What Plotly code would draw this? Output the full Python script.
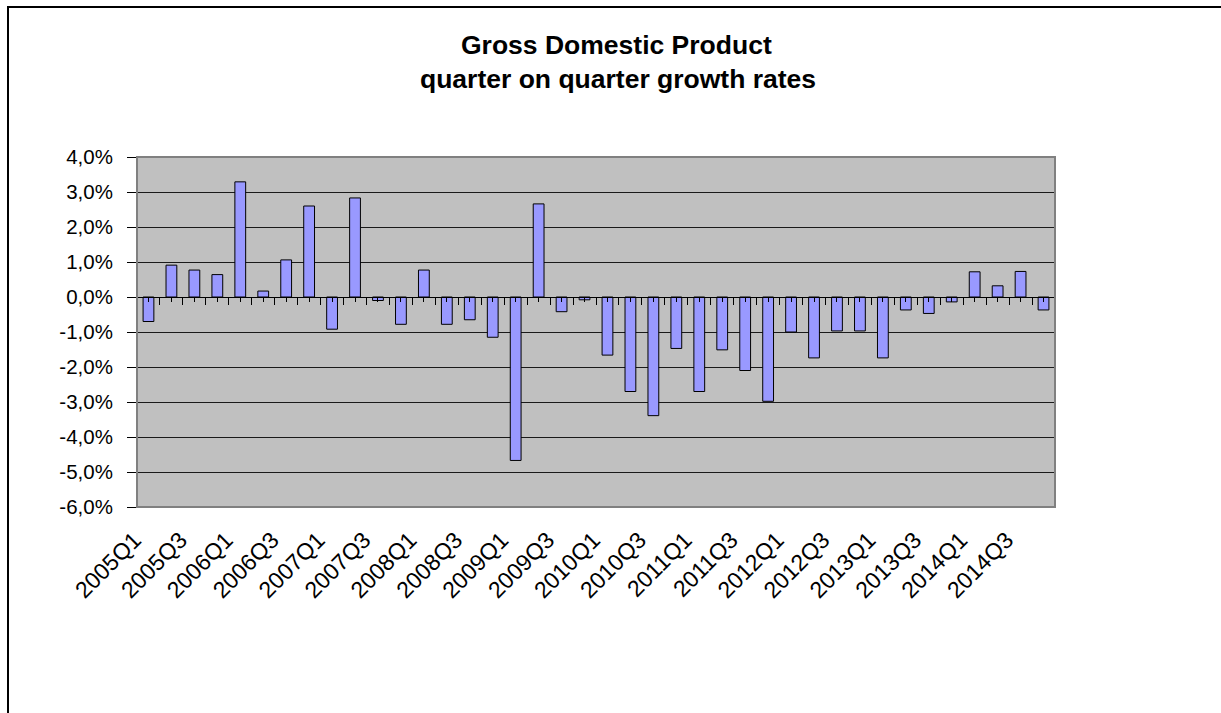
import plotly.graph_objects as go

quarters = [f"{y}Q{q}" for y in range(2005, 2015) for q in range(1, 5)]
growth = [
    -0.70, 0.91, 0.77, 0.64, 3.29, 0.17, 1.06, 2.60,
    -0.92, 2.83, -0.10, -0.78, 0.77, -0.78, -0.65, -1.15,
    -4.67, 2.66, -0.42, -0.08, -1.66, -2.70, -3.39, -1.47,
    -2.70, -1.51, -2.10, -2.98, -1.00, -1.74, -0.97, -0.97,
    -1.74, -0.37, -0.47, -0.14, 0.72, 0.32, 0.73, -0.37,
]
y_ticks = list(range(-6, 5))
y_tick_labels = [f"{v:.1f}%".replace(".", ",") for v in y_ticks]
title_lines = ["Gross Domestic Product", "quarter on quarter growth rates"]

W, H = 1221, 713
L, R, T, B = 137, 1055, 157, 507

def px(x):
    return (x - L) / (R - L)

def py(y):
    return (B - y) / (B - T)

FONT = "Liberation Sans, Arial, sans-serif"

fig = go.Figure()
fig.add_trace(go.Bar(
    x=quarters, y=growth, width=0.47,
    marker=dict(color="#9999FF", line=dict(color="black", width=1)),
    hoverinfo="x+y",
))
# invisible helper trace for the zero-line axis
fig.add_trace(go.Scatter(
    x=list(range(len(quarters))), y=growth, xaxis="x2", mode="markers",
    marker=dict(opacity=0), hoverinfo="skip", showlegend=False,
))

zero_pos = (0 - y_ticks[0]) / (y_ticks[-1] - y_ticks[0])

fig.update_layout(
    width=W, height=H,
    margin=dict(l=L, r=W - R, t=T, b=H - B),
    paper_bgcolor="white", plot_bgcolor="#C0C0C0",
    showlegend=False,
    font=dict(family=FONT, color="black", size=18),
    xaxis=dict(
        type="category", categoryorder="array", categoryarray=quarters,
        range=[-0.5, len(quarters) - 0.5],
        tickmode="array", tickvals=quarters[::2], ticktext=quarters[::2],
        tickangle=-45, ticks="", showline=False, showgrid=False, zeroline=False,
        tickfont=dict(size=23, family=FONT), ticklabelshift=-14, ticklabelstandoff=14,
    ),
    xaxis2=dict(
        overlaying="x", anchor="free", position=zero_pos, side="bottom",
        range=[-0.5, len(quarters) - 0.5], type="linear",
        showline=True, linecolor="black", linewidth=1,
        ticks="outside", ticklen=7, tickwidth=1, tickcolor="black",
        tick0=-0.5, dtick=1, showticklabels=False, showgrid=False, zeroline=False,
        minor=dict(ticks="outside", ticklen=4, tickwidth=1, tickcolor="black",
                   tick0=0, dtick=1),
    ),
    yaxis=dict(
        range=[y_ticks[0], y_ticks[-1]], tickmode="array",
        tickvals=y_ticks, ticktext=y_tick_labels,
        showgrid=True, gridcolor="#1a1a1a", gridwidth=1.3,
        zeroline=False,
        showline=True, linecolor="black", linewidth=1,
        ticks="outside", ticklen=9, tickcolor="black",
        tickfont=dict(size=20.5, family=FONT), ticklabelstandoff=10,
    ),
    shapes=[
        dict(type="rect", xref="paper", yref="paper", x0=0, y0=0, x1=1, y1=1,
             line=dict(color="#808080", width=2), layer="above"),
        dict(type="rect", xref="paper", yref="paper",
             x0=px(8), y0=py(730), x1=px(1240), y1=py(7),
             line=dict(color="black", width=2)),
    ],
    annotations=[
        dict(text=f"<b>{title_lines[0]}</b>", xref="paper", yref="paper",
             x=px(616), y=py(45), showarrow=False, xanchor="center", yanchor="middle",
             font=dict(size=26.5, family=FONT)),
        dict(text=f"<b>{title_lines[1]}</b>", xref="paper", yref="paper",
             x=px(618), y=py(79), showarrow=False, xanchor="center", yanchor="middle",
             font=dict(size=26.5, family=FONT)),
    ],
)

fig.write_html("out.html")
